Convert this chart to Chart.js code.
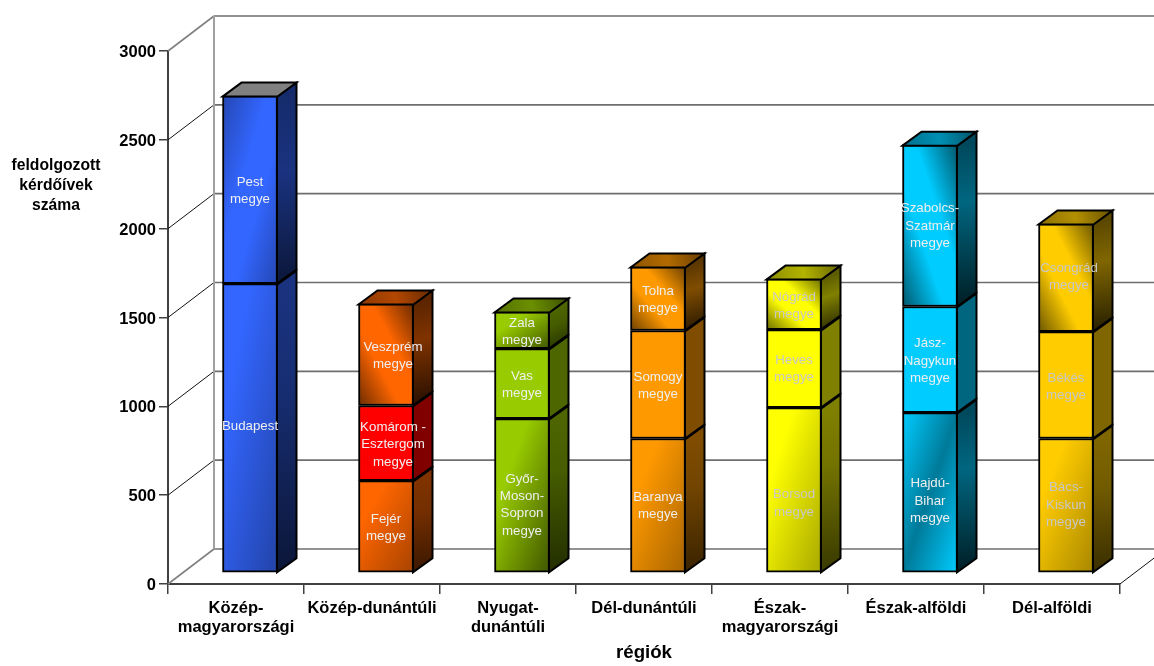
<!DOCTYPE html>
<html><head><meta charset="utf-8">
<style>html,body{margin:0;padding:0;background:#fff}canvas{display:block}</style>
<script src="https://cdn.jsdelivr.net/npm/chart.js@4/dist/chart.umd.min.js"></script>
</head><body><canvas id="c" width="1154" height="666"></canvas>
<script>
const regions = [["Közép-","magyarországi"],"Közép-dunántúli",["Nyugat-","dunántúli"],"Dél-dunántúli",["Észak-","magyarországi"],"Észak-alföldi","Dél-alföldi"];
const lowerValues  = [1629, 520, 869, 757, 931, 903, 757];
const middleValues = [1058, 423, 394, 608, 439, 597, 602];
const upperValues  = [null, 574, 209, 360, 287, 911, 608];
const lowerNames  = [["Budapest"],["Fejér","megye"],["Győr-","Moson-","Sopron","megye"],["Baranya","megye"],["Borsod","megye"],["Hajdú-","Bihar","megye"],["Bács-","Kiskun","megye"]];
const middleNames = [["Pest","megye"],["Komárom -","Esztergom","megye"],["Vas","megye"],["Somogy","megye"],["Heves","megye"],["Jász-","Nagykun","megye"],["Békés","megye"]];
const upperNames  = [null,["Veszprém","megye"],["Zala","megye"],["Tolna","megye"],["Nógrád","megye"],["Szabolcs-","Szatmár","megye"],["Csongrád","megye"]];
const yTitle = ["feldolgozott","kérdőívek","száma"];
const xTitle = "régiók";

const baseColors = ["#3366FF","#FF6600","#99CC00","#FF9900","#FFFF00","#00CCFF","#FFCC00"];
const middleColors = ["#3366FF","#FF0000","#99CC00","#FF9900","#FFFF00","#00CCFF","#FFCC00"];
const lowerKinds  = ["fade","fade","deep","fade","fade","wave","fade"];
const middleKinds = ["pest","solid","solid","solid","solid","solid","solid"];
const upperKinds  = [null,"cross","deep","cross","cross","cross","cross"];
const textLight = "#EFEFEF", textDim = "#C8C8C8";
const textColors = [textLight,textLight,textLight,textLight,textDim,textLight,textDim];
const nudgeLower  = [[0,-3],[0,0],[0,8],[0,-1],[0,12],[0,7],[0,-2]];
const nudgeMiddle = [[0,0],[7,0],[0,0],[0,0],[0,-1],[0,0],[0,0]];
const nudgeUpper  = [[0,0],[7,0],[0,0],[0,0],[0,0],[0,-1],[3,-2]];

const DEPTH = {x:46,y:-35}, SHIFT = {x:14,y:-11}, BAR = {x:19,y:-14}, BARW = 55, TEXT_DROP = 1.5;
const FONT = '"Liberation Sans", Arial, sans-serif';

function shade(hex,f){
  const n=parseInt(hex.slice(1),16);
  return `rgb(${Math.round((n>>16&255)*f)},${Math.round((n>>8&255)*f)},${Math.round((n&255)*f)})`;
}
function diag(ctx,x0,y0,x1,y1,down,stops){
  const w=x1-x0,h=y1-y0,L2=w*w+h*h,cx=(x0+x1)/2,cy=(y0+y1)/2;
  const dx=h*w*h/L2, dy=(down?1:-1)*w*w*h/L2;
  const g=ctx.createLinearGradient(cx-dx,cy-dy,cx+dx,cy+dy);
  stops.forEach(s=>g.addColorStop(s[0],s[1]));
  return g;
}
function faceFill(ctx,kind,col,x0,y0,x1,y1){
  if(kind==="solid") return col;
  if(kind==="fade") return diag(ctx,x0,y0,x1,y1,true,[[0,col],[.25,col],[1,shade(col,.66)]]);
  if(kind==="deep") return diag(ctx,x0,y0,x1,y1,true,[[0,col],[.3,col],[1,shade(col,.42)]]);
  if(kind==="pest") return diag(ctx,x0,y0,x1,y1,true,[[0,shade(col,.7)],[.4,col],[.62,col],[1,shade(col,.7)]]);
  if(kind==="wave") return diag(ctx,x0,y0,x1,y1,true,[[0,col],[.5,shade(col,.6)],[1,col]]);
  return diag(ctx,x0,y0,x1,y1,false,[[0,shade(col,.42)],[.38,col],[.62,col],[1,shade(col,.42)]]);
}
const layers=[
  {values:lowerValues,names:lowerNames,kinds:lowerKinds,colors:baseColors,nudge:nudgeLower},
  {values:middleValues,names:middleNames,kinds:middleKinds,colors:middleColors,nudge:nudgeMiddle},
  {values:upperValues,names:upperNames,kinds:upperKinds,colors:baseColors,nudge:nudgeUpper}
];
function scripted(li){
  return c=>{
    const ch=c.chart,l=layers[li],i=c.dataIndex,col=l.colors[i],kind=l.kinds[i]||"solid";
    if(!ch.chartArea||!ch.scales.y) return col;
    let b=0; for(let k=0;k<li;k++) b+=layers[k].values[i]||0;
    const t=b+(l.values[i]||0), xc=ch.scales.x.getPixelForValue(i);
    return faceFill(ch.ctx,kind,col,xc-BARW/2,ch.scales.y.getPixelForValue(t),xc+BARW/2,ch.scales.y.getPixelForValue(b));
  };
}
const walls={id:"walls",beforeDatasetsDraw(ch){
  const c=ch.ctx,y=ch.scales.y,a=ch.chartArea;
  c.save();
  c.lineCap="butt";
  y.ticks.forEach(t=>{
    const p=y.getPixelForValue(t.value),edge=t.value===0||t.value===3000;
    c.strokeStyle="#6E6E6E";c.lineWidth=1.6;
    c.beginPath();c.moveTo(a.left+DEPTH.x,p+DEPTH.y);c.lineTo(1154,p+DEPTH.y);c.stroke();
    c.strokeStyle=edge?"#808080":"#111";c.lineWidth=edge?1.6:1;
    c.beginPath();c.moveTo(a.left,p);c.lineTo(a.left+DEPTH.x,p+DEPTH.y);c.stroke();
  });
  c.strokeStyle="#A0A0A0";c.lineWidth=2;
  c.beginPath();c.moveTo(a.left+DEPTH.x,a.top+DEPTH.y);c.lineTo(a.left+DEPTH.x,a.bottom+DEPTH.y);c.stroke();
  c.strokeStyle="#111";c.lineWidth=1;
  c.beginPath();c.moveTo(a.right,a.bottom);c.lineTo(a.right+DEPTH.x,a.bottom+DEPTH.y);c.stroke();
  c.restore();
  c.save();c.translate(SHIFT.x,SHIFT.y);
},afterDatasetsDraw(ch){
  const c=ch.ctx;
  c.lineJoin="miter";
  for(let i=0;i<regions.length;i++){
    let topLayer=0;
    layers.forEach((l,li)=>{
      if(l.values[i]==null) return;
      topLayer=li;
      const el=ch.getDatasetMeta(li).data[i];
      const x1=el.x+el.width/2,yT=el.y,yB=el.base,col=l.colors[i],kind=l.kinds[i];
      let fill=shade(col,.5);
      if(kind!=="solid"){
        const g=c.createLinearGradient(x1,yT,x1+BAR.x,yB);
        if(kind==="pest"){g.addColorStop(0,shade(col,.42));g.addColorStop(.4,shade(col,.5));g.addColorStop(1,shade(col,.22));}
        else if(kind==="fade"||kind==="deep"){g.addColorStop(0,shade(col,.5));g.addColorStop(.35,shade(col,.45));g.addColorStop(1,shade(col,.22));}
        else{g.addColorStop(0,shade(col,.36));g.addColorStop(.35,shade(col,.5));g.addColorStop(1,shade(col,.14));}
        fill=g;
      }
      c.fillStyle=fill;c.strokeStyle="#000";c.lineWidth=2;
      c.beginPath();c.moveTo(x1-.5,yT+1);c.lineTo(x1+BAR.x,yT+BAR.y+1);c.lineTo(x1+BAR.x,yB+BAR.y);c.lineTo(x1-.5,yB);c.closePath();
      c.fill();c.stroke();
    });
    const l=layers[topLayer],el=ch.getDatasetMeta(topLayer).data[i];
    const x0=el.x-el.width/2,x1=el.x+el.width/2,yT=el.y+1,col=l.colors[i];
    if(i===0) c.fillStyle="#808080";
    else{
      const g=c.createLinearGradient(x0,yT,x1+BAR.x,yT+BAR.y);
      g.addColorStop(0,shade(col,.55));g.addColorStop(.5,shade(col,.7));g.addColorStop(1,shade(col,.4));
      c.fillStyle=g;
    }
    c.beginPath();c.moveTo(x0,yT);c.lineTo(x0+BAR.x,yT+BAR.y);c.lineTo(x1+BAR.x,yT+BAR.y);c.lineTo(x1,yT);c.closePath();
    c.fill();c.stroke();
  }
  c.font='13.3px '+FONT;c.textAlign="center";c.textBaseline="middle";
  layers.forEach((l,li)=>{
    for(let i=0;i<regions.length;i++){
      if(!l.names[i]) continue;
      const el=ch.getDatasetMeta(li).data[i],n=l.nudge[i],cy=(el.y+el.base)/2+n[1]+TEXT_DROP;
      c.fillStyle=textColors[i];
      l.names[i].forEach((s,k)=>c.fillText(s,el.x+n[0],cy+(k-(l.names[i].length-1)/2)*17.3));
    }
  });
  c.restore();
  c.save();
  c.font='bold 15.7px '+FONT;c.textAlign="center";c.textBaseline="middle";c.fillStyle="#000";
  yTitle.forEach((s,k)=>c.fillText(s,56,166+k*20));
  c.restore();
}};
new Chart(document.getElementById("c"),{
  type:"bar",
  data:{labels:regions,datasets:layers.map((l,li)=>({
    data:l.values,backgroundColor:scripted(li),borderColor:"#000",borderWidth:2,borderSkipped:false,
    barThickness:BARW,stack:"s"}))},
  plugins:[walls],
  options:{
    responsive:false,animation:false,devicePixelRatio:1,
    layout:{padding:{top:51,right:34,left:0,bottom:0}},
    plugins:{legend:{display:false},tooltip:{enabled:false},title:{display:false}},
    scales:{
      x:{stacked:true,offset:true,
        afterFit(s){s.height=82;},
        grid:{drawOnChartArea:false,drawTicks:true,tickLength:10,color:"#404040",lineWidth:1.5,offset:true},
        border:{color:"#404040",width:2},
        ticks:{color:"#000",font:{family:FONT,size:16.5,weight:"bold",lineHeight:1.21},padding:4,maxRotation:0,autoSkip:false},
        title:{display:true,text:xTitle,color:"#000",font:{family:FONT,size:18.67,weight:"bold"},padding:{top:2,bottom:2}}
      },
      y:{stacked:true,min:0,max:3000,
        afterFit(s){s.width=168;},
        grid:{drawOnChartArea:false,tickLength:9,color:"#404040",lineWidth:1.5},
        border:{color:"#404040",width:2},
        ticks:{stepSize:500,color:"#000",font:{family:FONT,size:16.5,weight:"bold"},padding:3,labelOffset:1.5,callback:v=>String(v)}
      }
    }
  }
});
</script></body></html>
